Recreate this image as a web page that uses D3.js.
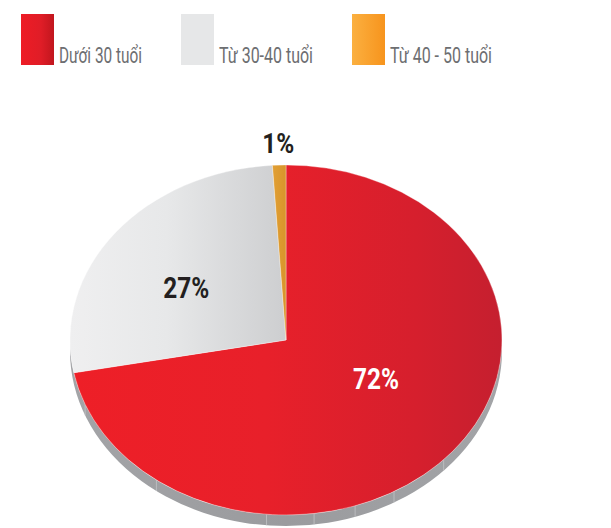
<!DOCTYPE html>
<html>
<head>
<meta charset="utf-8">
<script src="https://cdn.jsdelivr.net/npm/d3@7"></script>
<style>
  html, body { margin: 0; padding: 0; background: #fff; }
  svg { display: block; }
</style>
</head>
<body>
<svg id="chart" width="611" height="528"></svg>
<script>
// Age groups and their share of the total (%)
const categories = ["Dưới 30 tuổi", "Từ 30-40 tuổi", "Từ 40 - 50 tuổi"];
const values = [72, 27, 1];
const valueLabels = ["72%", "27%", "1%"];
const legendLabels = ["Dưới 30 tuổi", "Từ 30-40 tuổi", "Từ 40 - 50 tuổi"];

const svg = d3.select("#chart");
const defs = svg.append("defs");

// Pie geometry: a tilted disc (ellipse) with a thin side wall
const cx = 286, cy = 340, rx = 216, ry = 175, depth = 11;
const sy = ry / rx;

// Gradients for the slices and the legend swatches
function hGrad(id, stops, x1, x2, units) {
  const g = defs.append("linearGradient").attr("id", id)
    .attr("x1", x1).attr("x2", x2).attr("y1", 0).attr("y2", 0);
  if (units) g.attr("gradientUnits", units);
  stops.forEach(([o, c]) => g.append("stop").attr("offset", o).attr("stop-color", c));
}
// slice gradients live in the top face's own (centred) coordinates
hGrad("gRed", [[0, "#ee1f27"], [0.45, "#e8202a"], [0.8, "#d61f2d"], [1, "#c51f2f"]], -rx, rx, "userSpaceOnUse");
hGrad("gGrey", [[0, "#efeff0"], [0.45, "#e7e8e9"], [1, "#cdced0"]], -rx, 0, "userSpaceOnUse");
hGrad("gOrange", [[0, "#e3a236"], [1, "#d8942b"]], -16, 0, "userSpaceOnUse");
hGrad("gSide", [[0, "#a3a4a7"], [0.5, "#9a9b9e"], [1, "#a3a4a7"]], cx - rx, cx + rx, "userSpaceOnUse");
hGrad("lRed", [[0, "#ee1c25"], [0.6, "#e01d27"], [1, "#c1161e"]], 0, 1);
hGrad("lGrey", [[0, "#e6e7e8"], [1, "#e6e7e8"]], 0, 1);
hGrad("lOrange", [[0, "#fbb040"], [1, "#f7941d"]], 0, 1);

const sliceFills = ["url(#gRed)", "url(#gGrey)", "url(#gOrange)"];
const swatchFills = ["url(#lRed)", "url(#lGrey)", "url(#lOrange)"];

// Legend
const legendX = [21, 181, 352];
const legend = svg.append("g");
categories.forEach((c, i) => {
  const g = legend.append("g").attr("transform", `translate(${legendX[i]},14)`);
  g.append("rect").attr("width", 33).attr("height", 51).attr("fill", swatchFills[i]);
  const t = g.append("text")
    .attr("x", 38).attr("y", 49)
    .attr("font-family", "Roboto, 'Noto Sans', sans-serif")
    .attr("font-size", 22)
    .attr("fill", "#6d6e71")
    .text(legendLabels[i]);
  const w = t.node().getComputedTextLength();
  const target = [83, 94, 102][i];
  t.attr("textLength", Math.min(w, target)).attr("lengthAdjust", "spacingAndGlyphs");
});

// Side wall of the disc (front half)
const side = svg.append("g");
side.append("path")
  .attr("d", `M${cx - rx},${cy} A${rx},${ry} 0 0 0 ${cx + rx},${cy} L${cx + rx},${cy + depth} A${rx},${ry} 0 0 1 ${cx - rx},${cy + depth} Z`)
  .attr("fill", "url(#gSide)");
// faint seams on the side wall
[-0.93, -0.6, -0.09, 0.13, 0.32, 0.5, 0.73].forEach(f => {
  const x = cx + f * rx;
  const yTop = cy + ry * Math.sqrt(1 - f * f);
  side.append("line")
    .attr("x1", x).attr("x2", x).attr("y1", yTop).attr("y2", yTop + depth)
    .attr("stroke", "#c3c4c6").attr("stroke-width", 0.8);
});

// Top face slices, clockwise from 12 o'clock
const pie = d3.pie().sort(null).value(d => d).startAngle(0).endAngle(2 * Math.PI);
const arcs = pie(values);
const arc = d3.arc().innerRadius(0).outerRadius(rx);

const topFace = svg.append("g").attr("transform", `translate(${cx},${cy}) scale(1,${sy})`);
topFace.selectAll("path")
  .data(arcs)
  .join("path")
  .attr("d", arc)
  .attr("fill", (d, i) => sliceFills[i])
  .attr("stroke", "rgba(255,255,255,0.55)")
  .attr("stroke-width", 0.6)
  .attr("vector-effect", "non-scaling-stroke");

// Value labels: placed along each slice's direction at a set fraction of the radius
const labelSpec = [
  { turn: -12, r: 0.47, color: "#ffffff", size: 30, width: 46 },
  { turn: -4.5, r: 0.553, color: "#231f20", size: 30, width: 46 },
  { turn: 0, r: 1.125, color: "#231f20", size: 27, width: 32 }
];
const labels = svg.append("g");
arcs.forEach((d, i) => {
  const s = labelSpec[i];
  const a = (d.startAngle + d.endAngle) / 2 + s.turn * Math.PI / 180;
  const x = cx + Math.sin(a) * rx * s.r;
  const y = cy - Math.cos(a) * ry * s.r;
  labels.append("text")
    .attr("x", x).attr("y", y).attr("dy", "0.36em")
    .attr("text-anchor", "middle")
    .attr("font-family", "Roboto, 'Noto Sans', sans-serif")
    .attr("font-weight", 700)
    .attr("font-size", s.size)
    .attr("fill", s.color)
    .attr("textLength", s.width)
    .attr("lengthAdjust", "spacingAndGlyphs")
    .text(valueLabels[i]);
});
</script>
</body>
</html>
